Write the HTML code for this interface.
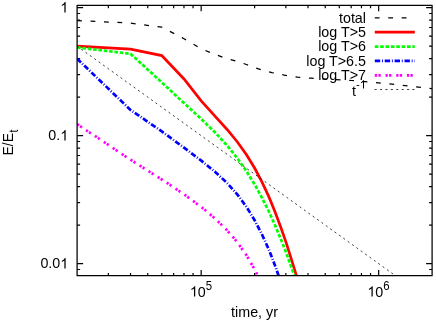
<!DOCTYPE html>
<html><head><meta charset="utf-8">
<style>
html,body{margin:0;padding:0;background:#fff;}
svg{display:block;will-change:transform;}
text{font-family:"Liberation Sans",sans-serif;font-size:14.3px;fill:#000;}
</style></head><body>
<svg width="436" height="321" viewBox="0 0 436 321">
<rect width="436" height="321" fill="#fff"/>
<defs><clipPath id="c"><rect x="77.1" y="5.2" width="355" height="270.7"/></clipPath></defs>
<path id="ticks" stroke="#000" stroke-width="1.2" fill="none" d="M108.36,275.9v-3 M108.36,5.2v3 M130.53,275.9v-3 M130.53,5.2v3 M147.73,275.9v-3 M147.73,5.2v3 M161.79,275.9v-3 M161.79,5.2v3 M173.67,275.9v-3 M173.67,5.2v3 M183.97,275.9v-3 M183.97,5.2v3 M193.05,275.9v-3 M193.05,5.2v3 M201.17,275.9v-6 M201.17,5.2v6 M254.60,275.9v-3 M254.60,5.2v3 M285.86,275.9v-3 M285.86,5.2v3 M308.03,275.9v-3 M308.03,5.2v3 M325.23,275.9v-3 M325.23,5.2v3 M339.29,275.9v-3 M339.29,5.2v3 M351.17,275.9v-3 M351.17,5.2v3 M361.47,275.9v-3 M361.47,5.2v3 M370.55,275.9v-3 M370.55,5.2v3 M378.67,275.9v-6 M378.67,5.2v6 M77.1,7.65h6 M432.1,7.65h-6 M77.1,135.65h6 M432.1,135.65h-6 M77.1,97.12h3 M432.1,97.12h-3 M77.1,74.58h3 M432.1,74.58h-3 M77.1,58.59h3 M432.1,58.59h-3 M77.1,46.18h3 M432.1,46.18h-3 M77.1,36.05h3 M432.1,36.05h-3 M77.1,27.48h3 M432.1,27.48h-3 M77.1,20.05h3 M432.1,20.05h-3 M77.1,13.51h3 M432.1,13.51h-3 M77.1,263.65h6 M432.1,263.65h-6 M77.1,225.12h3 M432.1,225.12h-3 M77.1,202.58h3 M432.1,202.58h-3 M77.1,186.59h3 M432.1,186.59h-3 M77.1,174.18h3 M432.1,174.18h-3 M77.1,164.05h3 M432.1,164.05h-3 M77.1,155.48h3 M432.1,155.48h-3 M77.1,148.05h3 M432.1,148.05h-3 M77.1,141.51h3 M432.1,141.51h-3 M77.1,269.51h3 M432.1,269.51h-3"/>
<g clip-path="url(#c)" fill="none" stroke-linejoin="miter">
<path id="total" stroke="#000" stroke-width="1.25" stroke-dasharray="4.8 8.65" d="M77.1,20.6 L130.5,23.1 L161.8,27.2 L184,38.7 L201.2,48.8 L215.2,54.5 L227.1,58.7 L237.4,61.5 L246.5,64.5 L258.5,68.9 L271.9,72.6 L284.3,75.1 L297.7,77.2 L311.1,78.2 L336,79.7 L351.8,80.5 L378.4,82.8 L391.8,84.2 L405.1,85.6 L418.4,87.1 L432,88.6"/>
<path id="red" stroke="#f00" stroke-width="2.7" d="M77.1,46.2 L130.5,49.2 L161.8,55.6 L184.0,79.0 L201.2,100.8 L215.2,116.4 L227.1,129.5 L237.4,142.0 L246.5,154.7 L254.6,168.0 L261.9,181.9 L268.7,196.4 L274.8,211.3 L280.5,226.5 L285.9,241.9 L290.8,257.3 L295.5,272.6 L299.9,287.7"/>
<path id="green" stroke="#0f0" stroke-width="2.7" stroke-dasharray="3.58 1.79" d="M77.1,47.4 L130.5,53.8 L161.8,82.4 L184.0,103.1 L201.2,118.9 L215.2,132.5 L227.1,145.5 L237.4,158.3 L246.5,171.3 L254.6,184.4 L261.9,197.7 L268.7,211.2 L274.8,224.7 L280.5,238.3 L285.9,252.0 L290.8,265.6 L295.5,279.1"/>
<path id="blue" stroke="#00f" stroke-width="2.7" stroke-dasharray="5.4 1.8 0.9 1.8" d="M77.1,58.7 L130.5,109.9 L161.8,131.4 L184.0,147.7 L201.2,160.6 L215.2,171.9 L227.1,183.0 L237.4,194.5 L246.5,206.9 L254.6,220.2 L261.9,234.3 L268.7,249.2 L274.8,264.9 L280.5,281.1"/>
<path id="mag" stroke="#f0f" stroke-width="2.7" stroke-dasharray="2.3 1.3 2.3 4.8" d="M77.1,124.1 L130.5,159.7 L161.8,179.5 L184.0,194.3 L201.2,206.9 L215.2,218.6 L227.1,230.3 L237.4,242.4 L246.5,255.3 L254.6,269.3 L261.9,284.3"/>
<path id="dot" stroke="#000" stroke-width="0.75" stroke-dasharray="2.1 3.285" stroke-dashoffset="0.3" d="M77.1,46.2 L396.1,276.2"/>
</g>
<rect x="77.1" y="5.25" width="355" height="270.45" fill="none" stroke="#000" stroke-width="1.25" stroke-linejoin="round"/>
<!-- y tick labels -->
<path fill="#000" d="M763 0H583V-1147Q518 -1085 412.5 -1023T223 -930V-1104Q374 -1175 487 -1276T647 -1472H763Z" transform="translate(60.30,12.40) scale(0.006982)"/>
<text x="60.30" y="140.4" text-anchor="end">0.</text><path fill="#000" d="M763 0H583V-1147Q518 -1085 412.5 -1023T223 -930V-1104Q374 -1175 487 -1276T647 -1472H763Z" transform="translate(60.30,140.40) scale(0.006982)"/>
<text x="60.30" y="268.4" text-anchor="end">0.0</text><path fill="#000" d="M763 0H583V-1147Q518 -1085 412.5 -1023T223 -930V-1104Q374 -1175 487 -1276T647 -1472H763Z" transform="translate(60.30,268.40) scale(0.006982)"/>
<!-- x tick labels -->
<path fill="#000" d="M763 0H583V-1147Q518 -1085 412.5 -1023T223 -930V-1104Q374 -1175 487 -1276T647 -1472H763Z" transform="translate(189.90,296.50) scale(0.006982)"/><text x="197.85" y="296.5">0</text><text transform="translate(205.8,289.9) scale(1,1.13)" style="font-size:11.4px">5</text>
<path fill="#000" d="M763 0H583V-1147Q518 -1085 412.5 -1023T223 -930V-1104Q374 -1175 487 -1276T647 -1472H763Z" transform="translate(367.40,296.50) scale(0.006982)"/><text x="375.35" y="296.5">0</text><text transform="translate(383.3,289.9) scale(1,1.13)" style="font-size:11.4px">6</text>
<text x="231.1" y="316.8">time, yr</text>
<text transform="translate(12.85,155.4) rotate(-90) scale(0.97,1.04)">E/E</text><text transform="translate(17.75,132.6) rotate(-90) scale(0.9,1.05)" style="font-size:11.4px">t</text>
<!-- legend -->
<text x="366" y="22.95" text-anchor="end">total</text>
<text x="366" y="37.25" text-anchor="end">log T&gt;5</text>
<text x="366" y="51.35" text-anchor="end">log T&gt;6</text>
<text x="366" y="65.7" text-anchor="end">log T&gt;6.5</text>
<text x="366" y="80.05" text-anchor="end">log T&gt;7</text>
<text x="352" y="96">t<tspan dy="-7.6" font-size="11.4">-</tspan></text><path fill="#000" d="M763 0H583V-1147Q518 -1085 412.5 -1023T223 -930V-1104Q374 -1175 487 -1276T647 -1472H763Z" transform="translate(359.77,88.40) scale(0.005566)"/>
<g fill="none">
<path stroke="#000" stroke-width="1.25" stroke-dasharray="4.8 8.65" d="M374.8,17.8 H414.8"/>
<path stroke="#f00" stroke-width="2.7" d="M374.8,32.2 H414.8"/>
<path stroke="#0f0" stroke-width="2.7" stroke-dasharray="3.58 1.79" d="M374.8,46.6 H414.8"/>
<path stroke="#00f" stroke-width="2.7" stroke-dasharray="5.4 1.8 0.9 1.8" d="M374.8,60.9 H414.8"/>
<path stroke="#f0f" stroke-width="2.7" stroke-dasharray="2.3 1.3 2.3 4.8" d="M374.8,75.4 H414.8"/>
<path stroke="#000" stroke-width="0.75" stroke-dasharray="2.1 3.3" d="M374.6,89.5 H414.8"/>
</g>
</svg>
</body></html>
